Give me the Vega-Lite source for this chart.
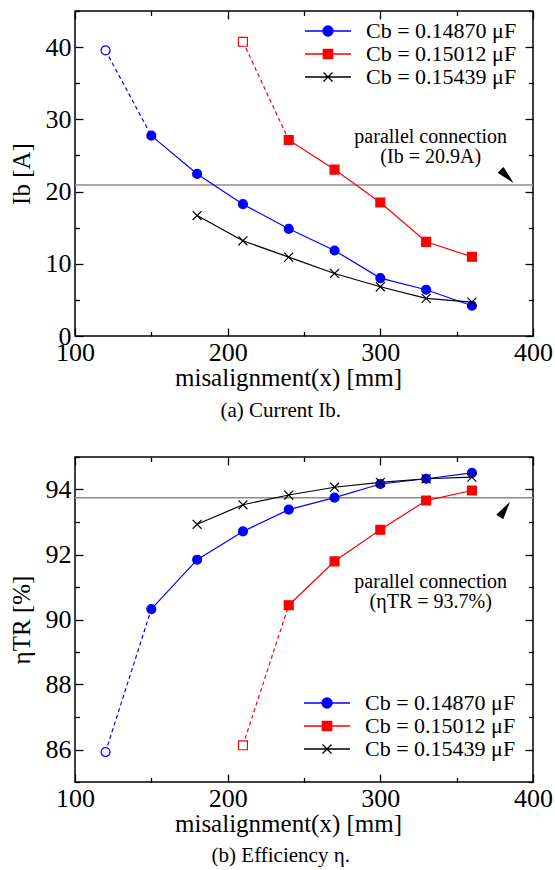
{
  "$schema": "https://vega.github.io/schema/vega-lite/v6.json",
  "padding": {"left": 8, "top": 9, "right": 0, "bottom": 0},
  "spacing": 33,
  "config": {
    "font": "Liberation Serif",
    "view": {"stroke": "black", "strokeWidth": 1.5},
    "axis": {
      "domain": false, "grid": false,
      "labelFont": "Liberation Serif", "labelFontSize": 26, "labelColor": "black",
      "titleFont": "Liberation Serif", "titleFontSize": 25, "titleFontWeight": "normal", "titleColor": "black",
      "tickColor": "black", "tickWidth": 1.3,
      "labelFlush": false, "labelOverlap": false, "labelBound": false
    }
  },
  "datasets": {
    "d": [
      {"series": "Cb = 0.14870 μF", "x": 120, "Ib": 39.54, "eta": 85.92, "open": true, "dash": true},
      {"series": "Cb = 0.14870 μF", "x": 150, "Ib": 27.74, "eta": 90.32, "open": false, "dash": true},
      {"series": "Cb = 0.14870 μF", "x": 180, "Ib": 22.44, "eta": 91.84, "open": false, "dash": false},
      {"series": "Cb = 0.14870 μF", "x": 210, "Ib": 18.25, "eta": 92.71, "open": false, "dash": false},
      {"series": "Cb = 0.14870 μF", "x": 240, "Ib": 14.84, "eta": 93.38, "open": false, "dash": false},
      {"series": "Cb = 0.14870 μF", "x": 270, "Ib": 11.84, "eta": 93.75, "open": false, "dash": false},
      {"series": "Cb = 0.14870 μF", "x": 300, "Ib": 8.02, "eta": 94.17, "open": false, "dash": false},
      {"series": "Cb = 0.14870 μF", "x": 330, "Ib": 6.41, "eta": 94.33, "open": false, "dash": false},
      {"series": "Cb = 0.14870 μF", "x": 360, "Ib": 4.19, "eta": 94.51, "open": false, "dash": false},
      {"series": "Cb = 0.15012 μF", "x": 210, "Ib": 40.74, "eta": 86.13, "open": true, "dash": true},
      {"series": "Cb = 0.15012 μF", "x": 240, "Ib": 27.14, "eta": 90.44, "open": false, "dash": true},
      {"series": "Cb = 0.15012 μF", "x": 270, "Ib": 23.04, "eta": 91.79, "open": false, "dash": false},
      {"series": "Cb = 0.15012 μF", "x": 300, "Ib": 18.48, "eta": 92.76, "open": false, "dash": false},
      {"series": "Cb = 0.15012 μF", "x": 330, "Ib": 13.04, "eta": 93.66, "open": false, "dash": false},
      {"series": "Cb = 0.15012 μF", "x": 360, "Ib": 10.97, "eta": 93.97, "open": false, "dash": false},
      {"series": "Cb = 0.15439 μF", "x": 180, "Ib": 16.68, "eta": 92.93, "open": false, "dash": false},
      {"series": "Cb = 0.15439 μF", "x": 210, "Ib": 13.18, "eta": 93.53, "open": false, "dash": false},
      {"series": "Cb = 0.15439 μF", "x": 240, "Ib": 10.92, "eta": 93.83, "open": false, "dash": false},
      {"series": "Cb = 0.15439 μF", "x": 270, "Ib": 8.66, "eta": 94.07, "open": false, "dash": false},
      {"series": "Cb = 0.15439 μF", "x": 300, "Ib": 6.82, "eta": 94.22, "open": false, "dash": false},
      {"series": "Cb = 0.15439 μF", "x": 330, "Ib": 5.21, "eta": 94.33, "open": false, "dash": false},
      {"series": "Cb = 0.15439 μF", "x": 360, "Ib": 4.70, "eta": 94.38, "open": false, "dash": false}
    ]
  },
  "resolve": {
    "scale": {"shape": "independent", "fill": "independent", "stroke": "independent"},
    "legend": {"shape": "independent", "fill": "independent", "stroke": "independent"}
  },
  "vconcat": [
    {
      "width": 458, "height": 325,
      "title": {"text": "(a) Current Ib.", "orient": "bottom", "anchor": "middle", "frame": "bounds", "fontSize": 21, "fontWeight": "normal", "font": "Liberation Serif", "color": "black", "offset": 10},
      "resolve": {
        "axis": {"x": "independent", "y": "independent"},
        "scale": {"shape": "independent", "fill": "independent", "stroke": "independent"},
        "legend": {"shape": "independent", "fill": "independent", "stroke": "independent"}
      },
      "layer": [
        {
          "data": {"values": [{"ref": 20.9}]},
          "mark": {"type": "rule", "color": "#8c8c8c", "strokeWidth": 1.5},
          "encoding": {
            "y": {"field": "ref", "type": "quantitative", "scale": {"domain": [0, 45], "nice": false}, "axis": null}
          }
        },
        {
          "data": {"name": "d"},
          "transform": [{"filter": "datum.dash"}],
          "mark": {"type": "line", "strokeWidth": 1.2, "strokeDash": [4, 3]},
          "encoding": {
            "x": {"field": "x", "type": "quantitative", "scale": {"domain": [100, 400], "nice": false}, "axis": null},
            "y": {"field": "Ib", "type": "quantitative", "scale": {"domain": [0, 45], "nice": false}, "axis": null},
            "stroke": {"field": "series", "type": "nominal", "scale": {"domain": ["Cb = 0.14870 μF", "Cb = 0.15012 μF", "Cb = 0.15439 μF"], "range": ["#0000ff", "#ff0000", "#000000"]}, "legend": null},
            "detail": {"field": "series"}
          }
        },
        {
          "data": {"name": "d"},
          "transform": [{"filter": "!datum.open"}],
          "mark": {"type": "line", "strokeWidth": 1.2},
          "encoding": {
            "x": {"field": "x", "type": "quantitative", "scale": {"domain": [100, 400], "nice": false},
              "axis": {"orient": "top", "values": [100, 150, 200, 250, 300, 350, 400], "labels": false, "title": null,
                "tickSize": {"condition": {"test": "datum.value % 100 === 0", "value": -8}, "value": -4.5}}},
            "y": {"field": "Ib", "type": "quantitative", "scale": {"domain": [0, 45], "nice": false},
              "axis": {"orient": "right", "values": [0, 5, 10, 15, 20, 25, 30, 35, 40, 45], "labels": false, "title": null,
                "tickSize": {"condition": {"test": "datum.value % 10 === 0", "value": -8}, "value": -4.5}}},
            "stroke": {"field": "series", "type": "nominal", "scale": {"domain": ["Cb = 0.14870 μF", "Cb = 0.15012 μF", "Cb = 0.15439 μF"], "range": ["#0000ff", "#ff0000", "#000000"]}, "legend": null},
            "detail": {"field": "series"}
          }
        },
        {
          "data": {"name": "d"},
          "mark": {"type": "point", "size": 80, "strokeWidth": 1.2, "opacity": 1},
          "encoding": {
            "x": {"field": "x", "type": "quantitative", "scale": {"domain": [100, 400], "nice": false},
              "axis": {"orient": "bottom", "values": [100, 150, 200, 250, 300, 350, 400], "format": "d",
                "labelExpr": "datum.value % 100 === 0 ? datum.label : ''",
                "labelFontSize": {"condition": {"test": "datum.value % 100 === 0", "value": 26}, "value": 0},
                "tickSize": {"condition": {"test": "datum.value % 100 === 0", "value": -8}, "value": -4.5},
                "labelPadding": 11, "title": "misalignment(x) [mm]", "titlePadding": 0, "titleX": 213, "titleAnchor": "middle"}},
            "y": {"field": "Ib", "type": "quantitative", "scale": {"domain": [0, 45], "nice": false},
              "axis": {"orient": "left", "values": [0, 5, 10, 15, 20, 25, 30, 35, 40, 45], "format": "d",
                "labelExpr": "datum.value % 10 === 0 ? datum.label : ''",
                "labelFontSize": {"condition": {"test": "datum.value % 10 === 0", "value": 26}, "value": 0},
                "tickSize": {"condition": {"test": "datum.value % 10 === 0", "value": -8}, "value": -4.5},
                "labelPadding": 12, "title": "Ib [A]", "titlePadding": 11}},
            "shape": {"field": "series", "type": "nominal",
              "scale": {"domain": ["Cb = 0.14870 μF", "Cb = 0.15012 μF", "Cb = 0.15439 μF"], "range": ["circle", "square", "M-1,-1L1,1M-1,1L1,-1"]}, "legend": null},
            "fill": {"condition": {"test": "datum.open", "value": "white"}, "field": "series", "type": "nominal",
              "scale": {"domain": ["Cb = 0.14870 μF", "Cb = 0.15012 μF", "Cb = 0.15439 μF"], "range": ["#0000ff", "#ff0000", "transparent"]}, "legend": null},
            "stroke": {"field": "series", "type": "nominal", "scale": {"domain": ["Cb = 0.14870 μF", "Cb = 0.15012 μF", "Cb = 0.15439 μF"], "range": ["#0000ff", "#ff0000", "#000000"]}, "legend": null}
          }
        },
        {
          "data": {"name": "d"},
          "mark": {"type": "point", "opacity": 0},
          "encoding": {
            "x": {"field": "x", "type": "quantitative", "scale": {"domain": [100, 400], "nice": false}, "axis": null},
            "y": {"field": "Ib", "type": "quantitative", "scale": {"domain": [0, 45], "nice": false}, "axis": null},
            "shape": {"field": "series", "type": "nominal",
              "scale": {"domain": ["Cb = 0.14870 μF", "Cb = 0.15012 μF", "Cb = 0.15439 μF"],
                "range": ["M-4.6,0H4.6M1,0A1,1,0,1,1,-1,0A1,1,0,1,1,1,0Z", "M-4.6,0H4.6M-0.94,-0.94H0.94V0.94H-0.94Z", "M-4.6,0H4.6M-0.9,-0.9L0.9,0.9M-0.9,0.9L0.9,-0.9"]},
              "legend": {"orient": "none", "legendX": 242, "legendY": 9, "title": null, "padding": 0,
                "symbolSize": 100, "symbolOpacity": 1, "symbolStrokeWidth": 1.3,
                "labelOffset": 27, "labelFontSize": 22, "labelFont": "Liberation Serif", "labelColor": "black", "rowPadding": 1}},
            "fill": {"field": "series", "type": "nominal",
              "scale": {"domain": ["Cb = 0.14870 μF", "Cb = 0.15012 μF", "Cb = 0.15439 μF"], "range": ["#0000ff", "#ff0000", "transparent"]},
              "legend": {"orient": "none", "legendX": 242, "legendY": 9, "title": null, "padding": 0,
                "symbolSize": 100, "symbolOpacity": 1, "symbolStrokeWidth": 1.3,
                "labelOffset": 27, "labelFontSize": 22, "labelFont": "Liberation Serif", "labelColor": "black", "rowPadding": 1}},
            "stroke": {"field": "series", "type": "nominal",
              "scale": {"domain": ["Cb = 0.14870 μF", "Cb = 0.15012 μF", "Cb = 0.15439 μF"], "range": ["#0000ff", "#ff0000", "#000000"]},
              "legend": {"orient": "none", "legendX": 242, "legendY": 9, "title": null, "padding": 0,
                "symbolSize": 100, "symbolOpacity": 1, "symbolStrokeWidth": 1.3,
                "labelOffset": 27, "labelFontSize": 22, "labelFont": "Liberation Serif", "labelColor": "black", "rowPadding": 1}}
          }
        },
        {
          "data": {"values": [{}]},
          "mark": {"type": "text", "font": "Liberation Serif", "fontSize": 20, "align": "center", "baseline": "middle", "lineHeight": 20, "color": "black"},
          "encoding": {
            "x": {"datum": 333, "type": "quantitative", "scale": {"domain": [100, 400], "nice": false}, "axis": null},
            "y": {"datum": 27.5, "type": "quantitative", "scale": {"domain": [0, 45], "nice": false}, "axis": null},
            "text": {"value": ["parallel connection", "(Ib = 20.9A)"]}
          }
        },
        {
          "data": {"values": [{}]},
          "mark": {"type": "point", "shape": "M0,-1L0.45,1L-0.45,1Z", "filled": true, "color": "black", "size": 340, "angle": 135, "opacity": 1},
          "encoding": {
            "x": {"datum": 383, "type": "quantitative", "scale": {"domain": [100, 400], "nice": false}, "axis": null},
            "y": {"datum": 22.1, "type": "quantitative", "scale": {"domain": [0, 45], "nice": false}, "axis": null}
          }
        }
      ]
    },
    {
      "width": 458, "height": 325,
      "title": {"text": "(b) Efficiency η.", "orient": "bottom", "anchor": "middle", "frame": "bounds", "fontSize": 21, "fontWeight": "normal", "font": "Liberation Serif", "color": "black", "offset": 9},
      "resolve": {
        "axis": {"x": "independent", "y": "independent"},
        "scale": {"shape": "independent", "fill": "independent", "stroke": "independent"},
        "legend": {"shape": "independent", "fill": "independent", "stroke": "independent"}
      },
      "layer": [
        {
          "data": {"values": [{"ref": 93.75}]},
          "mark": {"type": "rule", "color": "#8c8c8c", "strokeWidth": 1.5},
          "encoding": {
            "y": {"field": "ref", "type": "quantitative", "scale": {"domain": [85, 95], "nice": false, "zero": false}, "axis": null}
          }
        },
        {
          "data": {"name": "d"},
          "transform": [{"filter": "datum.dash"}],
          "mark": {"type": "line", "strokeWidth": 1.2, "strokeDash": [4, 3]},
          "encoding": {
            "x": {"field": "x", "type": "quantitative", "scale": {"domain": [100, 400], "nice": false}, "axis": null},
            "y": {"field": "eta", "type": "quantitative", "scale": {"domain": [85, 95], "nice": false, "zero": false}, "axis": null},
            "stroke": {"field": "series", "type": "nominal", "scale": {"domain": ["Cb = 0.14870 μF", "Cb = 0.15012 μF", "Cb = 0.15439 μF"], "range": ["#0000ff", "#ff0000", "#000000"]}, "legend": null},
            "detail": {"field": "series"}
          }
        },
        {
          "data": {"name": "d"},
          "transform": [{"filter": "!datum.open"}],
          "mark": {"type": "line", "strokeWidth": 1.2},
          "encoding": {
            "x": {"field": "x", "type": "quantitative", "scale": {"domain": [100, 400], "nice": false},
              "axis": {"orient": "top", "values": [100, 150, 200, 250, 300, 350, 400], "labels": false, "title": null,
                "tickSize": {"condition": {"test": "datum.value % 100 === 0", "value": -8}, "value": -4.5}}},
            "y": {"field": "eta", "type": "quantitative", "scale": {"domain": [85, 95], "nice": false, "zero": false},
              "axis": {"orient": "right", "values": [85, 86, 87, 88, 89, 90, 91, 92, 93, 94, 95], "labels": false, "title": null,
                "tickSize": {"condition": {"test": "datum.value % 2 === 0", "value": -8}, "value": -4.5}}},
            "stroke": {"field": "series", "type": "nominal", "scale": {"domain": ["Cb = 0.14870 μF", "Cb = 0.15012 μF", "Cb = 0.15439 μF"], "range": ["#0000ff", "#ff0000", "#000000"]}, "legend": null},
            "detail": {"field": "series"}
          }
        },
        {
          "data": {"name": "d"},
          "mark": {"type": "point", "size": 80, "strokeWidth": 1.2, "opacity": 1},
          "encoding": {
            "x": {"field": "x", "type": "quantitative", "scale": {"domain": [100, 400], "nice": false},
              "axis": {"orient": "bottom", "values": [100, 150, 200, 250, 300, 350, 400], "format": "d",
                "labelExpr": "datum.value % 100 === 0 ? datum.label : ''",
                "labelFontSize": {"condition": {"test": "datum.value % 100 === 0", "value": 26}, "value": 0},
                "tickSize": {"condition": {"test": "datum.value % 100 === 0", "value": -8}, "value": -4.5},
                "labelPadding": 11, "title": "misalignment(x) [mm]", "titlePadding": 0, "titleX": 213, "titleAnchor": "middle"}},
            "y": {"field": "eta", "type": "quantitative", "scale": {"domain": [85, 95], "nice": false, "zero": false},
              "axis": {"orient": "left", "values": [85, 86, 87, 88, 89, 90, 91, 92, 93, 94, 95], "format": "d",
                "labelExpr": "datum.value % 2 === 0 ? datum.label : ''",
                "labelFontSize": {"condition": {"test": "datum.value % 2 === 0", "value": 26}, "value": 0},
                "tickSize": {"condition": {"test": "datum.value % 2 === 0", "value": -8}, "value": -4.5},
                "labelPadding": 12, "title": "ηTR [%]", "titlePadding": 11}},
            "shape": {"field": "series", "type": "nominal",
              "scale": {"domain": ["Cb = 0.14870 μF", "Cb = 0.15012 μF", "Cb = 0.15439 μF"], "range": ["circle", "square", "M-1,-1L1,1M-1,1L1,-1"]}, "legend": null},
            "fill": {"condition": {"test": "datum.open", "value": "white"}, "field": "series", "type": "nominal",
              "scale": {"domain": ["Cb = 0.14870 μF", "Cb = 0.15012 μF", "Cb = 0.15439 μF"], "range": ["#0000ff", "#ff0000", "transparent"]}, "legend": null},
            "stroke": {"field": "series", "type": "nominal", "scale": {"domain": ["Cb = 0.14870 μF", "Cb = 0.15012 μF", "Cb = 0.15439 μF"], "range": ["#0000ff", "#ff0000", "#000000"]}, "legend": null}
          }
        },
        {
          "data": {"name": "d"},
          "mark": {"type": "point", "opacity": 0},
          "encoding": {
            "x": {"field": "x", "type": "quantitative", "scale": {"domain": [100, 400], "nice": false}, "axis": null},
            "y": {"field": "eta", "type": "quantitative", "scale": {"domain": [85, 95], "nice": false, "zero": false}, "axis": null},
            "shape": {"field": "series", "type": "nominal",
              "scale": {"domain": ["Cb = 0.14870 μF", "Cb = 0.15012 μF", "Cb = 0.15439 μF"],
                "range": ["M-4.6,0H4.6M1,0A1,1,0,1,1,-1,0A1,1,0,1,1,1,0Z", "M-4.6,0H4.6M-0.94,-0.94H0.94V0.94H-0.94Z", "M-4.6,0H4.6M-0.9,-0.9L0.9,0.9M-0.9,0.9L0.9,-0.9"]},
              "legend": {"orient": "none", "legendX": 241, "legendY": 235, "title": null, "padding": 0,
                "symbolSize": 100, "symbolOpacity": 1, "symbolStrokeWidth": 1.3,
                "labelOffset": 27, "labelFontSize": 22, "labelFont": "Liberation Serif", "labelColor": "black", "rowPadding": 1}},
            "fill": {"field": "series", "type": "nominal",
              "scale": {"domain": ["Cb = 0.14870 μF", "Cb = 0.15012 μF", "Cb = 0.15439 μF"], "range": ["#0000ff", "#ff0000", "transparent"]},
              "legend": {"orient": "none", "legendX": 241, "legendY": 235, "title": null, "padding": 0,
                "symbolSize": 100, "symbolOpacity": 1, "symbolStrokeWidth": 1.3,
                "labelOffset": 27, "labelFontSize": 22, "labelFont": "Liberation Serif", "labelColor": "black", "rowPadding": 1}},
            "stroke": {"field": "series", "type": "nominal",
              "scale": {"domain": ["Cb = 0.14870 μF", "Cb = 0.15012 μF", "Cb = 0.15439 μF"], "range": ["#0000ff", "#ff0000", "#000000"]},
              "legend": {"orient": "none", "legendX": 241, "legendY": 235, "title": null, "padding": 0,
                "symbolSize": 100, "symbolOpacity": 1, "symbolStrokeWidth": 1.3,
                "labelOffset": 27, "labelFontSize": 22, "labelFont": "Liberation Serif", "labelColor": "black", "rowPadding": 1}}
          }
        },
        {
          "data": {"values": [{}]},
          "mark": {"type": "text", "font": "Liberation Serif", "fontSize": 20, "align": "center", "baseline": "middle", "lineHeight": 20, "color": "black"},
          "encoding": {
            "x": {"datum": 333, "type": "quantitative", "scale": {"domain": [100, 400], "nice": false}, "axis": null},
            "y": {"datum": 91.15, "type": "quantitative", "scale": {"domain": [85, 95], "nice": false, "zero": false}, "axis": null},
            "text": {"value": ["parallel connection", "(ηTR = 93.7%)"]}
          }
        },
        {
          "data": {"values": [{}]},
          "mark": {"type": "point", "shape": "M0,-1L0.45,1L-0.45,1Z", "filled": true, "color": "black", "size": 340, "angle": 34, "opacity": 1},
          "encoding": {
            "x": {"datum": 381.6, "type": "quantitative", "scale": {"domain": [100, 400], "nice": false}, "axis": null},
            "y": {"datum": 93.39, "type": "quantitative", "scale": {"domain": [85, 95], "nice": false, "zero": false}, "axis": null}
          }
        }
      ]
    }
  ]
}
